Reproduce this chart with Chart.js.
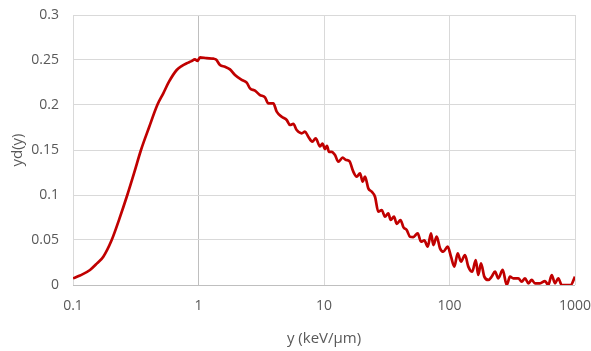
<!DOCTYPE html>
<html>
<head>
<meta charset="utf-8">
<script src="https://cdn.jsdelivr.net/npm/chart.js@4.4.1/dist/chart.umd.min.js"></script>
<style>
    html, body { margin: 0; padding: 0; background: #fff; }
    canvas { display: block; }
</style>
</head>
<body>
<canvas id="ydChart" width="591" height="351"></canvas>
<script>
// lineal energy y (keV/µm)
const lineal = [
    0.1, 0.1137, 0.1366, 0.1553, 0.1744, 0.2034, 0.2348, 0.2708, 0.3062, 0.3482,
    0.4033, 0.4696, 0.5243, 0.5821, 0.6705, 0.7389, 0.8053, 0.8716, 0.9378, 0.9818,
    1.028, 1.162, 1.312, 1.379, 1.483, 1.626, 1.782, 1.954, 2.209, 2.422,
    2.573, 2.820, 3.090, 3.387, 3.599, 3.945, 4.199, 4.602, 5.045, 5.358,
    5.692, 6.060, 6.643, 7.057, 7.496, 8.066, 8.587, 9.293, 9.729, 10.18,
    10.56, 10.96, 11.52, 12.24, 13.00, 14.09, 14.97, 15.91, 17.12, 18.22,
    19.36, 20.34, 21.22, 22.54, 23.99, 25.49, 27.08, 28.83, 30.62, 32.53,
    34.00, 36.13, 37.96, 40.70, 43.00, 45.61, 48.45, 51.47, 55.80, 59.28,
    62.98, 67.05, 71.23, 74.30, 79.08, 84.01, 89.25, 96.75, 102.8, 109.2,
    116.2, 123.5, 132.9, 141.2, 151.9, 161.8, 169.6, 178.2, 189.3, 203.8,
    216.9, 230.5, 244.8, 265.5, 285.6, 303.4, 322.4, 353.4, 376.1, 399.6,
    424.5, 451.8, 480.0, 526.1, 576.8, 612.8, 652.2, 692.9, 736.1, 783.5,
    858.7, 924.2, 1000
];

// y·d(y), dose-weighted distribution
const ydy = [
    0.0074, 0.0105, 0.0167, 0.0240, 0.0315, 0.0500, 0.0740, 0.1000, 0.1240, 0.1500,
    0.1750, 0.2000, 0.2130, 0.2259, 0.2389, 0.2435, 0.2463, 0.2485, 0.2507, 0.2490,
    0.2530, 0.2520, 0.2515, 0.2505, 0.2444, 0.2425, 0.2396, 0.2333, 0.2278, 0.2248,
    0.2185, 0.2159, 0.2111, 0.2085, 0.2019, 0.2019, 0.1926, 0.1870, 0.1833, 0.1778,
    0.1790, 0.1722, 0.1685, 0.1704, 0.1648, 0.1593, 0.1630, 0.1540, 0.1570, 0.1510,
    0.1545, 0.1480, 0.1480, 0.1444, 0.1370, 0.1415, 0.1389, 0.1378, 0.1259, 0.1204,
    0.1241, 0.1148, 0.1204, 0.1074, 0.1037, 0.0981, 0.0815, 0.0833, 0.0759, 0.0796,
    0.0722, 0.0759, 0.0680, 0.0722, 0.0640, 0.0611, 0.0537, 0.0533, 0.0574, 0.0481,
    0.0496, 0.0426, 0.0574, 0.0444, 0.0537, 0.0407, 0.0370, 0.0426, 0.0315, 0.0204,
    0.0352, 0.0259, 0.0333, 0.0204, 0.0148, 0.0278, 0.0111, 0.0241, 0.0093, 0.0056,
    0.0093, 0.0148, 0.0074, 0.0167, 0.0000, 0.0093, 0.0074, 0.0074, 0.0037, 0.0074,
    0.0019, 0.0056, 0.0019, 0.0019, 0.0044, 0.0000, 0.0111, 0.0019, 0.0074, 0.0000,
    0.0000, 0.0000, 0.0093
];

const xTicks = [0.1, 1, 10, 100, 1000];
const yTicks = [0, 0.05, 0.1, 0.15, 0.2, 0.25, 0.3];

document.addEventListener('DOMContentLoaded', () => {
    const textColor = '#595959';
    const gridColor = '#d9d9d9';
    const axisColor = '#bfbfbf';

    const ctx = document.getElementById('ydChart').getContext('2d');
    new Chart(ctx, {
        type: 'line',
        data: {
            datasets: [{
                data: lineal.map((v, i) => ({ x: v, y: ydy[i] })),
                borderColor: '#c00000',
                borderWidth: 2.7,
                pointRadius: 0,
                fill: false,
                cubicInterpolationMode: 'monotone'
            }]
        },
        options: {
            responsive: false,
            animation: false,
            layout: {
                padding: { top: 15, right: 16, left: 0, bottom: 0 }
            },
            scales: {
                x: {
                    type: 'logarithmic',
                    min: 0.1,
                    max: 1000,
                    afterBuildTicks: (scale) => {
                        scale.ticks = xTicks.map(v => ({ value: v }));
                    },
                    // fixed axis band; label overhang handled by layout padding
                    afterFit: (scale) => {
                        scale.height = 66;
                        scale.paddingLeft = 0;
                        scale.paddingRight = 0;
                    },
                    grid: {
                        color: (c) => (c.tick && c.tick.value === 1 ? axisColor : gridColor),
                        lineWidth: 1,
                        drawTicks: false
                    },
                    border: { display: false },
                    ticks: {
                        autoSkip: false,
                        maxRotation: 0,
                        padding: 13,
                        color: textColor,
                        font: { family: 'Open Sans', size: 14 },
                        callback: (v) => String(v)
                    },
                    title: {
                        display: true,
                        text: 'y (keV/µm)',
                        color: textColor,
                        font: { family: 'Open Sans', size: 15 },
                        padding: { top: 0, bottom: 3 }
                    }
                },
                y: {
                    min: 0,
                    max: 0.3,
                    afterBuildTicks: (scale) => {
                        scale.ticks = yTicks.map(v => ({ value: v }));
                    },
                    afterFit: (scale) => {
                        scale.width = 73;
                        scale.paddingTop = 0;
                        scale.paddingBottom = 0;
                    },
                    grid: {
                        color: (c) => (c.tick && c.tick.value === 0 ? axisColor : gridColor),
                        lineWidth: 1,
                        drawTicks: false
                    },
                    border: { display: false },
                    ticks: {
                        padding: 14,
                        color: textColor,
                        font: { family: 'Open Sans', size: 14 },
                        callback: (v) => String(v)
                    },
                    title: {
                        display: true,
                        text: 'yd(y)',
                        color: textColor,
                        font: { family: 'Open Sans', size: 15 },
                        padding: { top: 9, bottom: 0 }
                    }
                }
            },
            plugins: {
                legend: { display: false },
                tooltip: { enabled: false }
            }
        }
    });
});
</script>
</body>
</html>
